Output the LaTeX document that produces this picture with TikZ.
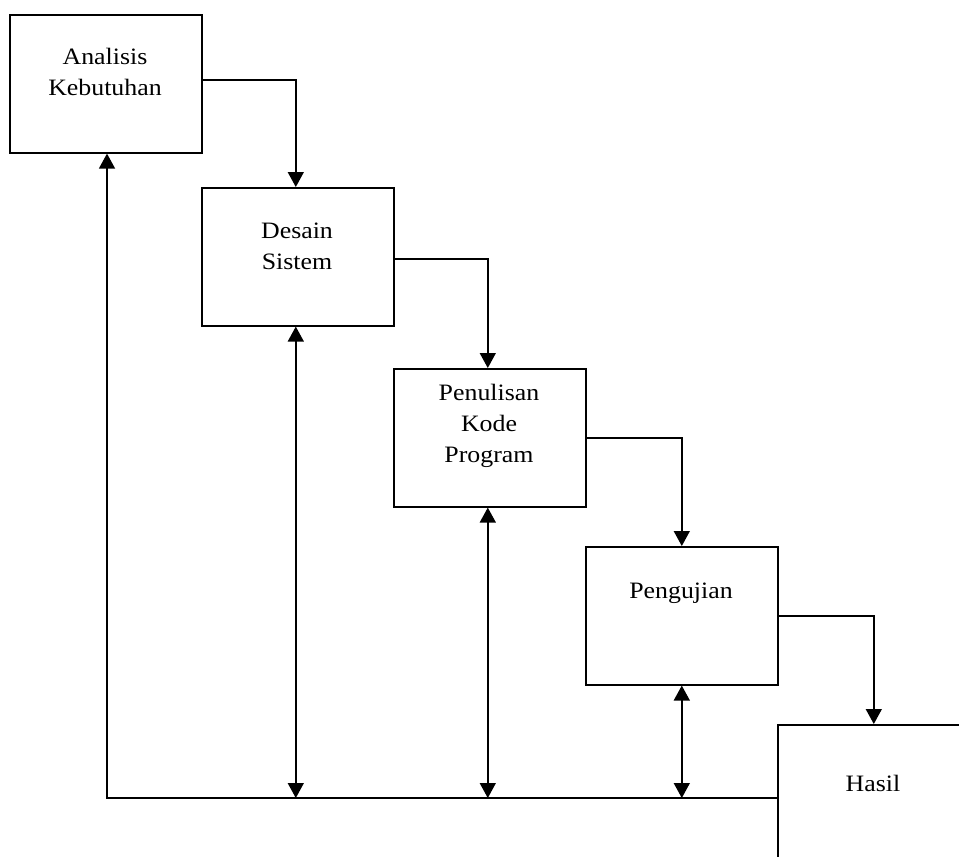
\documentclass[tikz,border=0pt]{standalone}
\usepackage{fontspec}
\setmainfont{Liberation Serif}[FakeStretch=1.1]
\usetikzlibrary{arrows.meta}
\begin{document}
\begin{tikzpicture}[x=1pt,y=-1pt,
  box/.style={draw,line width=1.6pt,rectangle,minimum width=192pt,minimum height=138pt,inner sep=0pt,anchor=north west},
  lbl/.style={align=center,font=\fontsize{23.5}{31}\selectfont,inner sep=0pt},
  conn/.style={line width=1.5pt,-{Triangle[width=16pt,length=15pt]}},
  dconn/.style={line width=1.5pt,{Triangle[width=16pt,length=15pt]}-{Triangle[width=16pt,length=15pt]}}]
\useasboundingbox (0,0) rectangle (959,857);
\clip (0,0) rectangle (959,857);
\node[box] (a) at (9,14) {};
\node[box] (d) at (201,187) {};
\node[box] (p) at (393,368) {};
\node[box] (u) at (585,546) {};
\node[box] (h) at (777,724) {};
\node[lbl] at (105,72) {Analisis\\Kebutuhan};
\node[lbl] at (297,246) {Desain\\Sistem};
\node[lbl] at (489,426) {Penulisan\\Kode\\Program};
\node[lbl] at (681,593) {Pengujian};
\node[lbl] at (873,783) {Hasil};
\coordinate (c) at (107,798);
\draw[conn] ([yshift=4pt]a.east) -| ([xshift=-2pt]d.north);
\draw[conn] ([yshift=-2pt]d.east) -| ([xshift=-2pt]p.north);
\draw[conn] (p.east) -| (u.north);
\draw[conn] (u.east) -| (h.north);
\draw[conn] (h.west |- c) -- (c) -- (c |- a.south);
\draw[dconn] ([xshift=-2pt]d.south) -- ([xshift=-2pt]d.south |- c);
\draw[dconn] ([xshift=-2pt]p.south) -- ([xshift=-2pt]p.south |- c);
\draw[dconn] (u.south) -- (u.south |- c);
\end{tikzpicture}
\end{document}
